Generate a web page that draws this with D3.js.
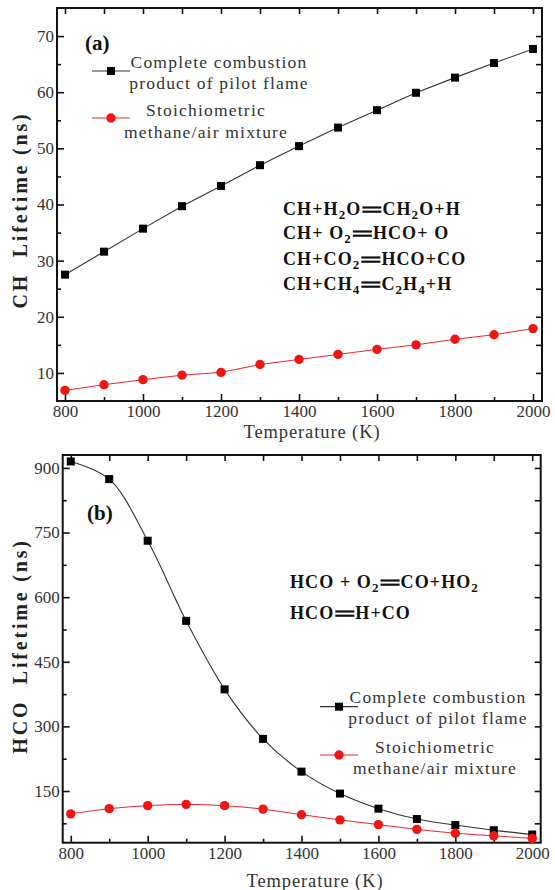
<!DOCTYPE html>
<html>
<head>
<meta charset="utf-8">
<script src="https://cdn.jsdelivr.net/npm/d3@7"></script>
<style>
  body { margin: 0; background: #fff; }
  svg text { font-family: "Liberation Serif", "Times New Roman", serif; fill: #222; }
</style>
</head>
<body>
<div id="chart"></div>
<script>
// Temperature points (K)
const temps = [800, 900, 1000, 1100, 1200, 1300, 1400, 1500, 1600, 1700, 1800, 1900, 2000];

// (a) CH lifetime (ns)
const chComplete = [27.5, 31.6, 35.7, 39.7, 43.3, 47.0, 50.4, 53.7, 56.8, 59.9, 62.6, 65.2, 67.7];
const chStoich = [6.9, 7.9, 8.8, 9.6, 10.1, 11.5, 12.4, 13.3, 14.2, 15.0, 16.0, 16.8, 17.9];

// (b) HCO lifetime (ns)
const hcoComplete = [915, 874, 731, 545, 386, 271, 195, 144, 109, 85, 71, 59, 49];
const hcoStoich = [97, 109, 116, 119, 116, 108, 95, 83, 72, 61, 52, 46, 40];

// ticks
const xTicks = [800, 1000, 1200, 1400, 1600, 1800, 2000];
const xMinorTicks = [900, 1100, 1300, 1500, 1700, 1900];
const chTicks = [10, 20, 30, 40, 50, 60, 70];
const chMinorTicks = [15, 25, 35, 45, 55, 65];
const hcoTicks = [150, 300, 450, 600, 750, 900];
const hcoMinorTicks = [75, 225, 375, 525, 675, 825];

const legendLabels = [
    ['Complete combustion', 'product of pilot flame'],
    ['Stoichiometric', 'methane/air mixture']
];
const chReactions = ['CH+H_2O=CH_2O+H', 'CH+ O_2=HCO+ O', 'CH+CO_2=HCO+CO', 'CH+CH_4=C_2H_4+H'];
const hcoReactions = ['HCO + O_2=CO+HO_2', 'HCO=H+CO'];

const width = 555;
const height = 890;

const svg = d3.select('#chart')
    .append('svg')
    .attr('width', width)
    .attr('height', height);

const blackLine = '#333';
const redLine = '#e8262a';
const redFill = '#f01515';

function chemText(g, str, x, y) {
    const t = g.append('text')
        .attr('x', x)
        .attr('y', y)
        .style('font-size', '18px')
        .style('font-weight', 'bold')
        .style('letter-spacing', '1.1px')
        .style('fill', '#111');
    let low = false;
    str.split(/(_\d)/).filter(s => s.length).forEach(s => {
        if (s[0] === '_') {
            t.append('tspan').attr('dy', 4).style('font-size', '13px').text(s.slice(1));
            low = true;
        } else {
            t.append('tspan').attr('dy', low ? -4 : 0).text(s);
            low = false;
        }
    });
    return t;
}

function reaction(g, str, x, y) {
    const [left, right] = str.split('=');
    const lt = chemText(g, left, x, y);
    const w = lt.node().getComputedTextLength();
    const x1 = x + w + 1, x2 = x1 + 19;
    [-7.5, -3.3].forEach(off => {
        g.append('line')
            .attr('x1', x1).attr('x2', x2)
            .attr('y1', y + off).attr('y2', y + off)
            .attr('stroke', '#111')
            .attr('stroke-width', 2.2);
    });
    chemText(g, right, x2 + 1, y);
}

function drawPanel(cfg) {
    const g = svg.append('g');
    const x = d3.scaleLinear().domain(cfg.xDomain).range([cfg.left, cfg.right]);
    const y = d3.scaleLinear().domain(cfg.yDomain).range([cfg.bottom, cfg.top]);

    function styleAxis(sel) {
        sel.select('.domain').remove();
        sel.selectAll('.tick line').attr('stroke', '#111').attr('stroke-width', 1.6);
        sel.selectAll('.tick text')
            .style('font-size', '17px')
            .style('fill', '#333');
    }

    // bottom axis
    g.append('g')
        .attr('transform', `translate(0,${cfg.bottom})`)
        .call(d3.axisBottom(x).tickValues(xTicks).tickSize(-7).tickPadding(4).tickFormat(d3.format('d')))
        .call(styleAxis);
    g.append('g')
        .attr('transform', `translate(0,${cfg.bottom})`)
        .call(d3.axisBottom(x).tickValues(xMinorTicks).tickSize(-4).tickFormat(''))
        .call(styleAxis);
    // top axis
    g.append('g')
        .attr('transform', `translate(0,${cfg.top})`)
        .call(d3.axisTop(x).tickValues(xTicks.concat(xMinorTicks)).tickSize(-6).tickFormat(''))
        .call(styleAxis);
    // left axis
    g.append('g')
        .attr('transform', `translate(${cfg.left},0)`)
        .call(d3.axisLeft(y).tickValues(cfg.yTicks).tickSize(-7).tickPadding(3).tickFormat(d3.format('d')))
        .call(styleAxis);
    g.append('g')
        .attr('transform', `translate(${cfg.left},0)`)
        .call(d3.axisLeft(y).tickValues(cfg.yMinor).tickSize(-4).tickFormat(''))
        .call(styleAxis);
    // right axis
    g.append('g')
        .attr('transform', `translate(${cfg.right},0)`)
        .call(d3.axisRight(y).tickValues(cfg.yTicks.concat(cfg.yMinor)).tickSize(-6).tickFormat(''))
        .call(styleAxis);

    // frame
    g.append('rect')
        .attr('x', cfg.left).attr('y', cfg.top)
        .attr('width', cfg.right - cfg.left)
        .attr('height', cfg.bottom - cfg.top)
        .attr('fill', 'none')
        .attr('stroke', '#111')
        .attr('stroke-width', 2);

    const line = d3.line()
        .x((d, i) => x(temps[i]))
        .y(d => y(d))
        .curve(cfg.curve);

    // series
    g.append('path').datum(cfg.complete)
        .attr('d', line).attr('fill', 'none')
        .attr('stroke', blackLine).attr('stroke-width', 1.1);
    g.append('path').datum(cfg.stoich)
        .attr('d', line).attr('fill', 'none')
        .attr('stroke', redLine).attr('stroke-width', 1);

    g.selectAll('.sq').data(cfg.complete).enter()
        .append('rect')
        .attr('x', (d, i) => x(temps[i]) - 4)
        .attr('y', d => y(d) - 4)
        .attr('width', 8).attr('height', 8)
        .attr('fill', '#000');
    g.selectAll('.dot').data(cfg.stoich).enter()
        .append('circle')
        .attr('cx', (d, i) => x(temps[i]))
        .attr('cy', d => y(d))
        .attr('r', 4.7)
        .attr('fill', redFill);

    // legend
    const lg = cfg.legend;
    [[lg.y1, blackLine, 'sq'], [lg.y2, redLine, 'dot']].forEach(([ly, col, kind], k) => {
        g.append('line')
            .attr('x1', lg.x - 19).attr('x2', lg.x + 19)
            .attr('y1', ly).attr('y2', ly)
            .attr('stroke', col).attr('stroke-width', 1.2);
        if (kind === 'sq') {
            g.append('rect').attr('x', lg.x - 4).attr('y', ly - 4)
                .attr('width', 8).attr('height', 8).attr('fill', '#000');
        } else {
            g.append('circle').attr('cx', lg.x).attr('cy', ly).attr('r', 4.7).attr('fill', redFill);
        }
        legendLabels[k].forEach((s, j) => {
            g.append('text')
                .attr('x', lg.tx[k])
                .attr('y', lg.ty[k] + j * 21.5)
                .attr('text-anchor', 'middle')
                .style('font-size', '17.5px')
                .style('letter-spacing', '1.2px')
                .style('fill', '#333')
                .text(s);
        });
    });

    // panel tag
    g.append('text')
        .attr('x', cfg.tag[0]).attr('y', cfg.tag[1])
        .style('font-size', '21px')
        .style('font-weight', 'bold')
        .style('fill', '#111')
        .text(cfg.tagText);

    // reactions
    cfg.reactions.forEach((r, i) => reaction(g, r, cfg.rx, cfg.ry[i]));

    // axis titles
    g.append('text')
        .attr('x', cfg.xTitle[0]).attr('y', cfg.xTitle[1])
        .attr('text-anchor', 'middle')
        .style('font-size', '18.5px')
        .style('letter-spacing', '0.9px')
        .style('fill', '#333')
        .text('Temperature (K)');
    g.append('text')
        .attr('transform', `translate(${cfg.yTitle[0]},${cfg.yTitle[1]}) rotate(-90)`)
        .attr('text-anchor', 'middle')
        .style('font-size', '20px')
        .style('font-weight', 'bold')
        .style('letter-spacing', '2.8px')
        .style('fill', '#222')
        .text(cfg.yTitleText);
}

drawPanel({
    left: 57, right: 542, top: 8, bottom: 401,
    xDomain: [779.5, 2023], yDomain: [5, 75],
    yTicks: chTicks, yMinor: chMinorTicks,
    complete: chComplete, stoich: chStoich,
    curve: d3.curveLinear,
    legend: { x: 111, y1: 71, y2: 118, tx: [219, 206], ty: [67.5, 116] },
    tag: [85, 50], tagText: '(a)',
    reactions: chReactions, rx: 283, ry: [215, 239, 265, 290],
    xTitle: [312, 438], yTitle: [27, 210], yTitleText: 'CH\u00a0 Lifetime (ns)'
});

drawPanel({
    left: 62.7, right: 540.7, top: 455, bottom: 842.7,
    xDomain: [779, 2022], yDomain: [30, 930],
    yTicks: hcoTicks, yMinor: hcoMinorTicks,
    complete: hcoComplete, stoich: hcoStoich,
    curve: d3.curveCatmullRom,
    legend: { x: 339, y1: 706.7, y2: 755, tx: [438, 435], ty: [702.5, 752.5] },
    tag: [87, 520], tagText: '(b)',
    reactions: hcoReactions, rx: 290, ry: [588, 619],
    xTitle: [315, 887], yTitle: [27, 646], yTitleText: 'HCO\u00a0 Lifetime (ns)'
});
</script>
</body>
</html>
